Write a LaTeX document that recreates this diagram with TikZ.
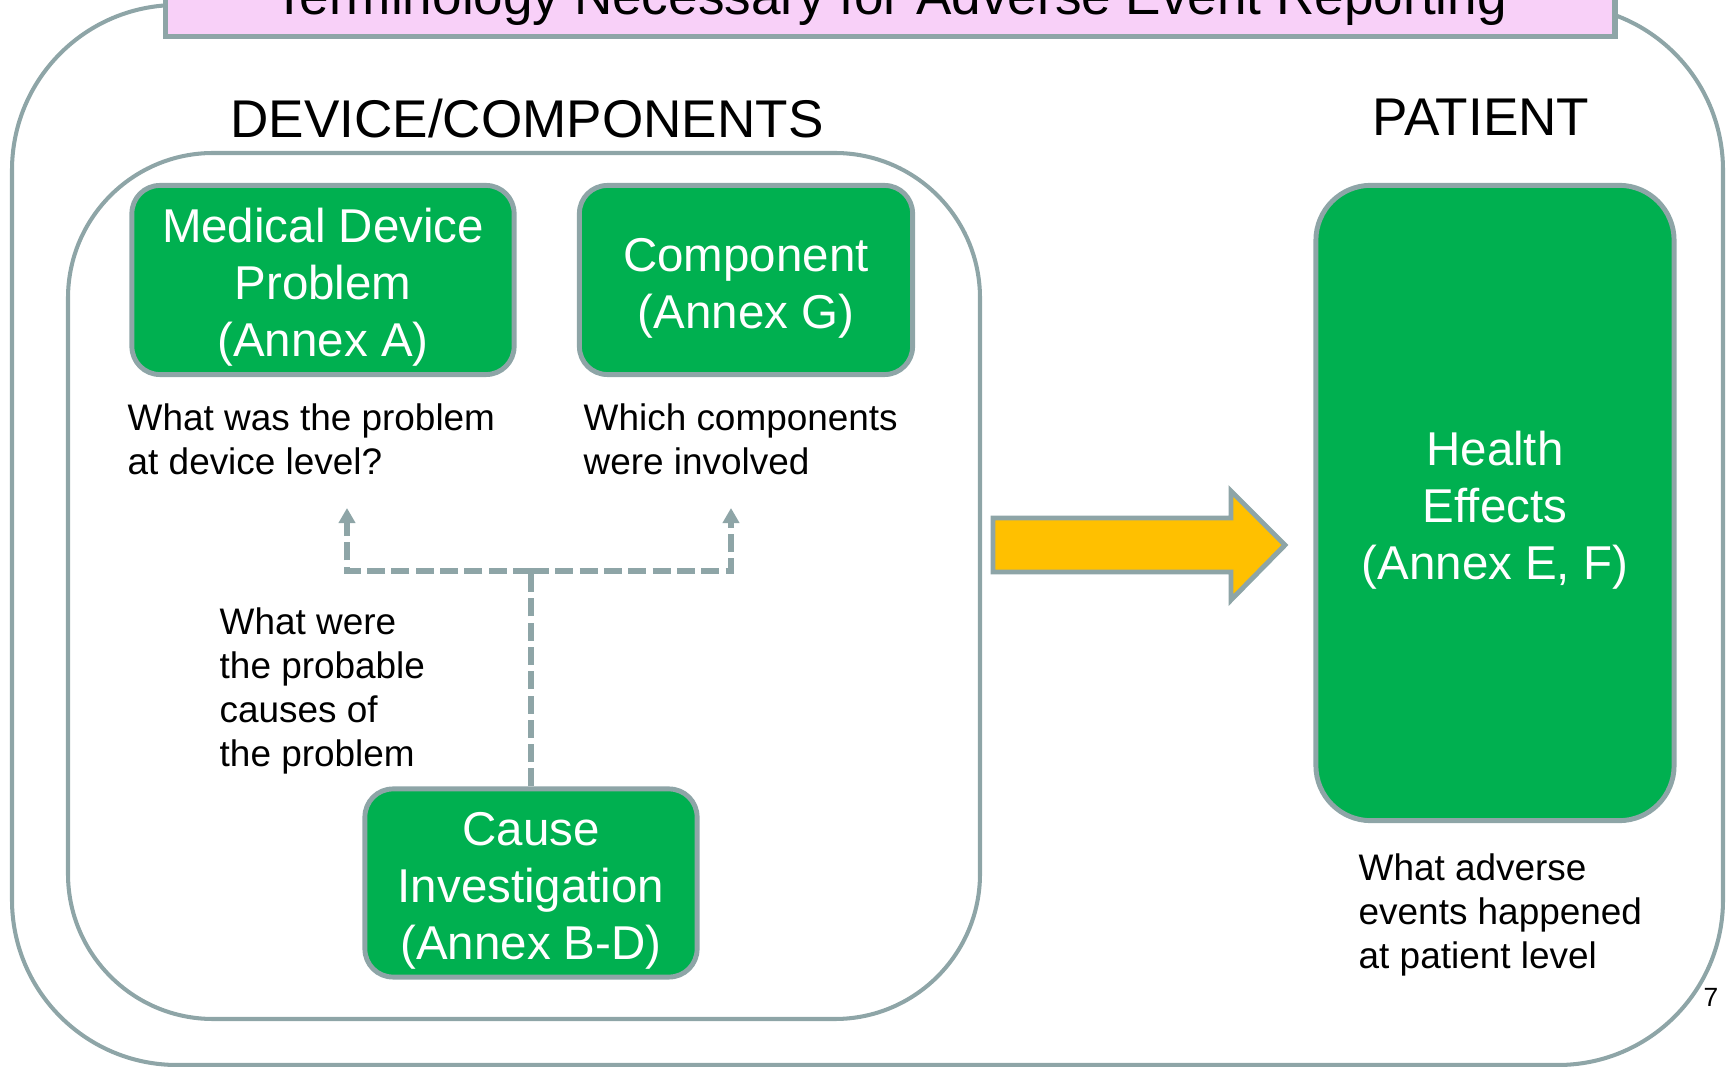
\documentclass[tikz,border=0pt]{standalone}
\usepackage{fontspec}
\setmainfont{Liberation Sans}
\usetikzlibrary{arrows.meta}
\definecolor{framegray}{RGB}{142,165,167}
\definecolor{boxgreen}{RGB}{0,176,80}
\definecolor{titlepink}{RGB}{248,208,248}
\definecolor{arrowgold}{RGB}{255,192,0}
% taller first line, so the lines sit a little lower in the boxes
\newcommand{\boxstrut}{\rule{0pt}{14pt}}

\begin{document}
\begin{tikzpicture}[x=0.01cm,y=-0.01cm,
  frame/.style={draw=framegray,line width=1.15pt},
  greenbox/.style={draw=framegray,line width=1.4pt,fill=boxgreen,text=white,
    rounded corners=0.28cm,align=center,inner sep=0pt,
    font=\fontsize{13.5}{16.2}\selectfont},
  heading/.style={font=\fontsize{15.1}{18}\selectfont},
  note/.style={align=left,anchor=west,inner sep=0pt,
    font=\fontsize{10.5}{12.5}\selectfont},
  linkline/.style={draw=framegray,line width=1.6pt,dash pattern=on 0.18cm off 0.063cm},
  link/.style={linkline,-{Triangle[width=4.6pt,length=4.3pt]}}
]
\useasboundingbox (0,0) rectangle (1729,1067);
\clip (0,0) rectangle (1729,1067);

% outer frame of the slide
\draw[frame, rounded corners=1.65cm] (12,5) rectangle (1723,1065);

% title banner running off the top edge
\draw[draw=framegray,line width=1.6pt,fill=titlepink] (165.5,-80) rectangle (1615,36.5);
\node[heading,anchor=base] (title) at (890,15) {Terminology Necessary for Adverse Event Reporting};

% device / components group
\draw[frame, rounded corners=1.45cm] (68,153) rectangle (980,1019);
\node[heading] (devhead) at (527,119) {DEVICE/COMPONENTS};
\node[heading] (pathead) at (1481,117) {PATIENT};

% terminology boxes
\node[greenbox,minimum width=3.82cm,minimum height=1.89cm] (mdp) at (323,280)
  {\boxstrut Medical Device\\Problem\\(Annex A)};
\node[greenbox,minimum width=3.33cm,minimum height=1.89cm] (comp) at (746,280)
  {\boxstrut Component\\(Annex G)};
\node[greenbox,minimum width=3.32cm,minimum height=1.88cm] (cause) at (531,883)
  {\boxstrut Cause\\Investigation\\(Annex B-D)};
\node[greenbox,rounded corners=0.55cm,minimum width=3.58cm,minimum height=6.35cm] (health) at (1495,503)
  {\boxstrut Health\\Effects\\(Annex E, F)};

% questions
\node[note] (q1) at (127,439) {What was the problem\\at device level?};
\node[note] (q2) at (583,439) {Which components\\were involved};
\node[note] (q3) at (219,691) {What were\\the probable\\causes of\\the problem};
\node[note] (q4) at (1358,915) {What adverse\\events happened\\at patient level};

% dashed links from the cause investigation
\coordinate (fork) at (531,571);
\coordinate (tipA) at (347,508);
\coordinate (tipB) at (731,508);
\draw[linkline] (cause.north) -- (fork);
\draw[link] (fork) -| (tipA);
\draw[link] (fork) -| (tipB);

% block arrow towards the patient side
\draw[draw=framegray,line width=1.4pt,fill=arrowgold,line join=miter]
  (993,518) -- (1231,518) -- (1231,491) -- (1285,545) -- (1231,600)
  -- (1231,572) -- (993,572) -- cycle;

% page number
\node[font=\fontsize{7.5}{9}\selectfont] (pageno) at (1711,997) {7};
\end{tikzpicture}
\end{document}
